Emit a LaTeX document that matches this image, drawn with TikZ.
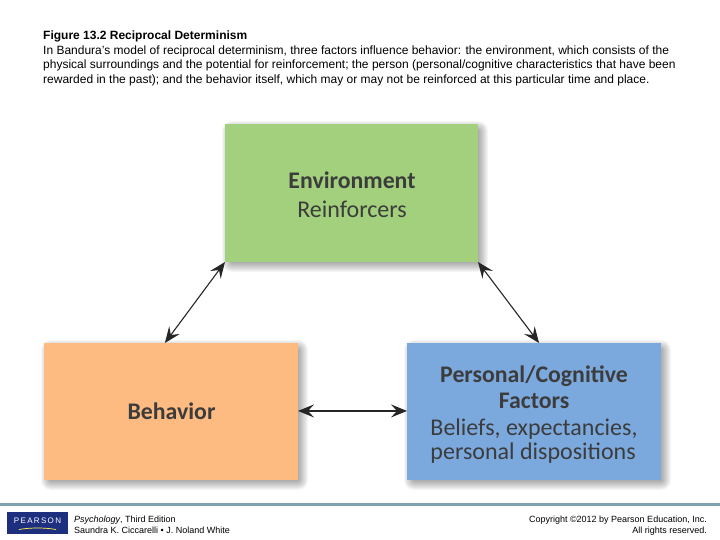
\documentclass[tikz,border=0pt]{standalone}
\usepackage{fontspec}
\setmainfont{Liberation Sans}
\newfontfamily\boxfont{Carlito}
\usetikzlibrary{arrows.meta,calc}
\definecolor{envgreen}{HTML}{A2D07C}
\definecolor{behorange}{HTML}{FDBA81}
\definecolor{perblue}{HTML}{7BA9DE}
\definecolor{rulecol}{HTML}{7CA3AE}
\definecolor{pearsonblue}{HTML}{1F2F80}
\definecolor{boxtext}{HTML}{3C3C3C}
\tikzset{
  x=1pt,y=-1pt,
  panel/.style={anchor=north west,inner sep=0pt,outer sep=0pt},
  two/.style={{Stealth[length=16pt,width=13pt,inset=6pt]}-{Stealth[length=16pt,width=13pt,inset=6pt]},line width=1.1pt,draw=black!85},
  plain/.style={anchor=north west,inner sep=0pt,font=\fontsize{12}{14.4}\selectfont,align=left},
  foot/.style={inner sep=0pt,font=\fontsize{9}{11}\selectfont},
  boxhead/.style={inner sep=0pt,text=boxtext,font=\boxfont\bfseries\fontsize{23.8}{26}\selectfont,align=center},
  boxbody/.style={inner sep=0pt,text=boxtext,font=\boxfont\fontsize{24}{24.5}\selectfont,align=left},
}
\newcommand{\softshadow}[4]{%
  \foreach \k in {1,2,...,10}{
    \fill[black,opacity=0.035,rounded corners=\k pt] (#1+7-\k,#2+7-\k) rectangle (#3+\k,#4+\k);
  }}
\begin{document}
\begin{tikzpicture}
\useasboundingbox (0,0) rectangle (720,540);
\fill[white] (0,0) rectangle (720,540);
\node[plain] (caption) at (43,31) {\textbf{Figure 13.2 Reciprocal Determinism}\\
In Bandura’s model of reciprocal determinism, three factors influence behavior: the environment, which consists of the\\
physical surroundings and the potential for reinforcement; the person (personal/cognitive characteristics that have been\\
rewarded in the past); and the behavior itself, which may or may not be reinforced at this particular time and place.};
\softshadow{225}{124}{478}{262}
\softshadow{44}{343}{298}{480}
\softshadow{407}{343}{661}{480}
\node[panel,fill=envgreen,minimum width=253pt,minimum height=138pt] (env) at (225,124) {};
\node[panel,fill=behorange,minimum width=254pt,minimum height=137pt] (beh) at (44,343) {};
\node[panel,fill=perblue,minimum width=254pt,minimum height=137pt] (per) at (407,343) {};
\node[boxhead] (envh) at (352,180) {Environment};
\node[boxbody] (envb) at (352,209) {Reinforcers};
\node[boxhead] (behh) at (171.5,411) {Behavior};
\node[boxhead] (perh) at (534,387) {Personal/Cognitive\\Factors};
\node[boxbody] (perb) at (534,441) {Beliefs, expectancies,\\personal dispositions};
\coordinate (behtop) at ($(beh.north west)!0.476!(beh.north east)$);
\coordinate (pertop) at ($(per.north west)!0.52!(per.north east)$);
\coordinate (behright) at ($(beh.north east)!0.496!(beh.south east)$);
\coordinate (perleft) at ($(per.north west)!0.496!(per.south west)$);
\draw[two] (env.south west) -- (behtop);
\draw[two] (env.south east) -- (pertop);
\draw[two] (behright) -- (perleft);
\fill[rulecol] (0,503) rectangle (720,506);
\node[panel,fill=pearsonblue,minimum width=61pt,minimum height=22pt] (logo) at (7,512) {};
\node[inner sep=0pt,text=white,font=\fontsize{8}{8}\selectfont] (logot) at (37.5,521) {P\,E\,A\,R\,S\,O\,N};
\draw[line width=0.7pt,draw=yellow!70!white] (19,529.5) .. controls (30,527.5) and (45,527.5) .. (56,529.5);
\node[foot,anchor=north west,align=left] (book) at (74,515.5) {\textit{Psychology}, Third Edition\\Saundra K. Ciccarelli • J. Noland White};
\node[foot,anchor=north east,align=right] (copy) at (707,515.5) {Copyright ©2012 by Pearson Education, Inc.\\All rights reserved.};
\end{tikzpicture}
\end{document}
